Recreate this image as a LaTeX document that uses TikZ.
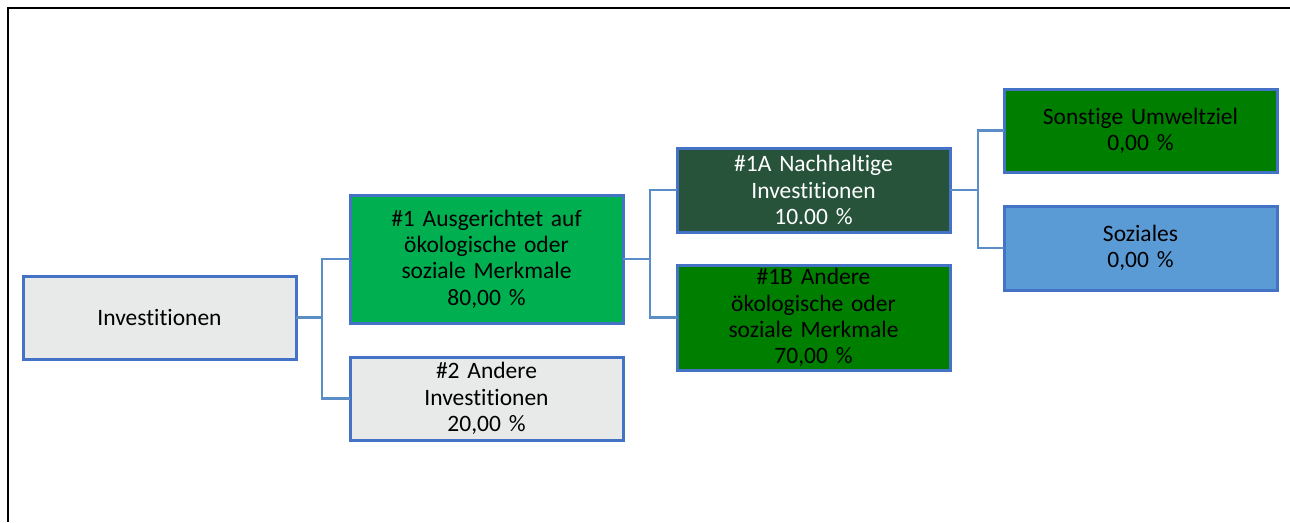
\documentclass[tikz,border=0pt]{standalone}
\usepackage{fontspec}
\setmainfont{Carlito}[Ligatures=NoCommon]
\usetikzlibrary{positioning}

\definecolor{boxblue}{HTML}{4472C4}
\definecolor{linkblue}{HTML}{5B8DC6}
\definecolor{boxgray}{HTML}{E8EAEA}
\definecolor{lightgreen}{HTML}{00B050}
\definecolor{darkgreen}{HTML}{265339}
\definecolor{midgreen}{HTML}{007E00}
\definecolor{softblue}{HTML}{5B9BD5}

\begin{document}
\begin{tikzpicture}[
		x=1pt,y=1pt,
		node distance=34pt and 54pt,
		mynode/.style={draw=boxblue,line width=3pt,rectangle,text width=255pt,align=center,inner xsep=9pt,inner ysep=0pt,minimum height=83pt,outer sep=0pt,font=\fontsize{23.5}{26.3}\selectfont},
		mylink/.style={draw=linkblue,line width=2.7pt}
		]
		\useasboundingbox (0,0) rectangle (1290,-522);
		% frame
		\draw[line width=2.5pt] (8,-522) -- (8,-8) -- (1290,-8);
		\node[mynode,fill=boxgray] (inv) at (159.5,-317.5) {Investitionen};
		\node[mynode,fill=lightgreen,minimum height=128pt,right=of inv,yshift=58.5pt] (merk) {\#1 Ausgerichtet auf\\ökologische oder\\soziale Merkmale\\80,00 \%};
		\node[mynode,fill=boxgray,below=of merk] (andinv) {\#2 Andere\\Investitionen\\20,00 \%};
		\node[mynode,fill=darkgreen,text=white,minimum height=84pt,right=of merk,yshift=69pt] (nachh) {\#1A Nachhaltige\\Investitionen\\10.00 \%};
		\node[mynode,fill=midgreen,minimum height=105pt,below=33pt of nachh] (andmerk) {\#1B Andere\\ökologische oder\\soziale Merkmale\\70,00 \%};
		\node[mynode,fill=midgreen,right=of nachh,yshift=59.5pt] (umwelt) {Sonstige Umweltziel\\0,00 \%};
		\node[mynode,fill=softblue,minimum height=84pt,below=of umwelt] (sozial) {Soziales\\0,00 \%};
		\path [mylink]
		(inv.east) -- ++(26,0) |- (merk.west)
		(inv.east) -- ++(26,0) |- (andinv.west)
		(merk.east) -- ++(27,0) |- (nachh.west)
		(merk.east) -- ++(27,0) |- (andmerk.west)
		(nachh.east) -- ++(28,0) |- (umwelt.west)
		(nachh.east) -- ++(28,0) |- (sozial.west);
	\end{tikzpicture}
\end{document}
